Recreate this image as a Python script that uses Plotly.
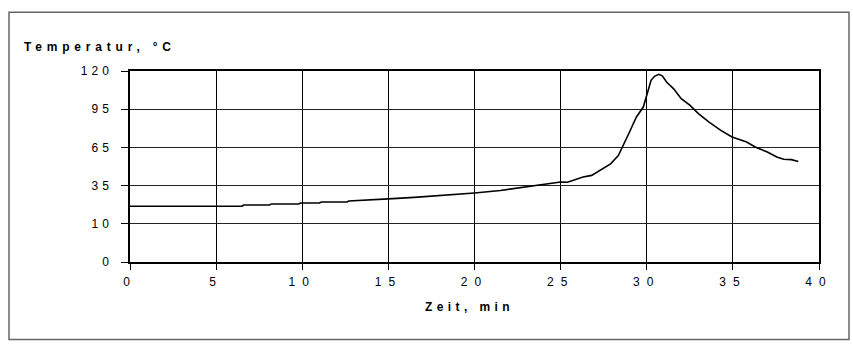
import numpy as np
import plotly.graph_objects as go

# Data (time in min, temperature in °C)
zeit_min = [0, 6.5, 6.6, 8.1, 8.2, 9.8, 9.9, 11.0, 11.1, 12.6, 12.7, 13.8, 15.0, 16.5, 18.0,
            20.0, 21.5, 23.0, 23.6, 23.8, 25.0, 25.4, 26.3, 26.8, 27.3, 27.9, 28.35, 28.65,
            29.0, 29.4, 29.8, 30.0, 30.25, 30.45, 30.7, 30.9, 31.15, 31.55, 32.0, 32.5, 33.0,
            33.6, 34.3, 34.95, 35.8, 36.3, 37.0, 37.55, 37.95, 38.4, 38.8]
temperatur_c = [21.5, 21.5, 22.3, 22.3, 23.0, 23.0, 23.6, 23.6, 24.3, 24.3, 24.9, 25.8, 26.3,
                27.3, 28.4, 30.2, 31.8, 34.1, 35.2, 35.8, 37.8, 37.6, 41.7, 43.0, 46.9, 52.1,
                58.6, 66.6, 77.1, 88.9, 96.4, 104.1, 113.9, 116.5, 117.8, 116.8, 112.8, 108.5,
                101.9, 97.6, 91.5, 85.0, 78.4, 73.2, 69.2, 65.3, 61.4, 57.5, 55.7, 55.4, 53.9]

# Y tick labels (equally spaced on the chart)
y_tick_values = [0, 10, 35, 65, 95, 120]
x_tick_values = [0, 5, 10, 15, 20, 25, 30, 35, 40]

# The axis places the labelled values at equal intervals; map values piecewise onto it
slot_pos = list(range(len(y_tick_values)))
y_plot = np.interp(temperatur_c, y_tick_values, slot_pos)

FONT = "Liberation Sans, Arial, sans-serif"

def spaced(txt, ls):
    return f"<span style='letter-spacing:{ls}px'>{txt}</span>"

fig = go.Figure()
fig.add_trace(go.Scatter(
    x=zeit_min, y=y_plot, mode="lines",
    line=dict(color="black", width=1.6),
    hoverinfo="skip", showlegend=False,
))

W, H = 853, 346
L, R, T, B = 130, 34, 71, 84
pw, ph = W - L - R, H - T - B

def px_x(p):
    return (p - L) / pw

def px_y(p):
    return (H - B - p) / ph

fig.update_layout(
    width=W, height=H,
    margin=dict(l=L, r=R, t=T, b=B, pad=0),
    paper_bgcolor="white", plot_bgcolor="white",
    font=dict(family=FONT, size=12, color="black"),
    xaxis=dict(
        range=[0, 40], tickvals=x_tick_values,
        ticktext=[spaced(v, 7) for v in x_tick_values],
        showgrid=True, gridcolor="black", gridwidth=1,
        showline=True, linecolor="black", linewidth=1.5, mirror=True,
        ticks="outside", ticklen=6, tickcolor="black", tickwidth=1,
        ticklabelstandoff=2, zeroline=False,
        tickfont=dict(family=FONT, size=12, color="black"),
    ),
    yaxis=dict(
        range=[0, 5], tickvals=slot_pos,
        ticktext=[spaced(v, 4) for v in y_tick_values],
        showgrid=True, gridcolor="#222222", gridwidth=1,
        showline=True, linecolor="black", linewidth=1.5, mirror=True,
        ticks="outside", ticklen=7, tickcolor="black", tickwidth=1,
        ticklabelstandoff=6, zeroline=False,
        tickfont=dict(family=FONT, size=12, color="black"),
    ),
    annotations=[
        dict(text="<b>" + spaced("Temperatur, °C", 4.8) + "</b>",
             xref="paper", yref="paper", x=px_x(22), y=px_y(47),
             xanchor="left", yanchor="middle", showarrow=False,
             font=dict(family=FONT, size=12, color="black")),
        dict(text="<b>" + spaced("Zeit, min", 4.4) + "</b>",
             xref="paper", yref="paper", x=px_x(423), y=px_y(307),
             xanchor="left", yanchor="middle", showarrow=False,
             font=dict(family=FONT, size=12, color="black")),
    ],
    shapes=[
        dict(type="rect", xref="paper", yref="paper",
             x0=px_x(9), x1=px_x(849), y0=px_y(339.5), y1=px_y(12.3),
             line=dict(color="#666666", width=1.5), fillcolor="rgba(0,0,0,0)"),
    ],
)

fig.write_html(
    "out.html",
    config={"displayModeBar": False},
    post_script="document.body.style.margin='0';document.body.style.overflow='hidden';",
)
